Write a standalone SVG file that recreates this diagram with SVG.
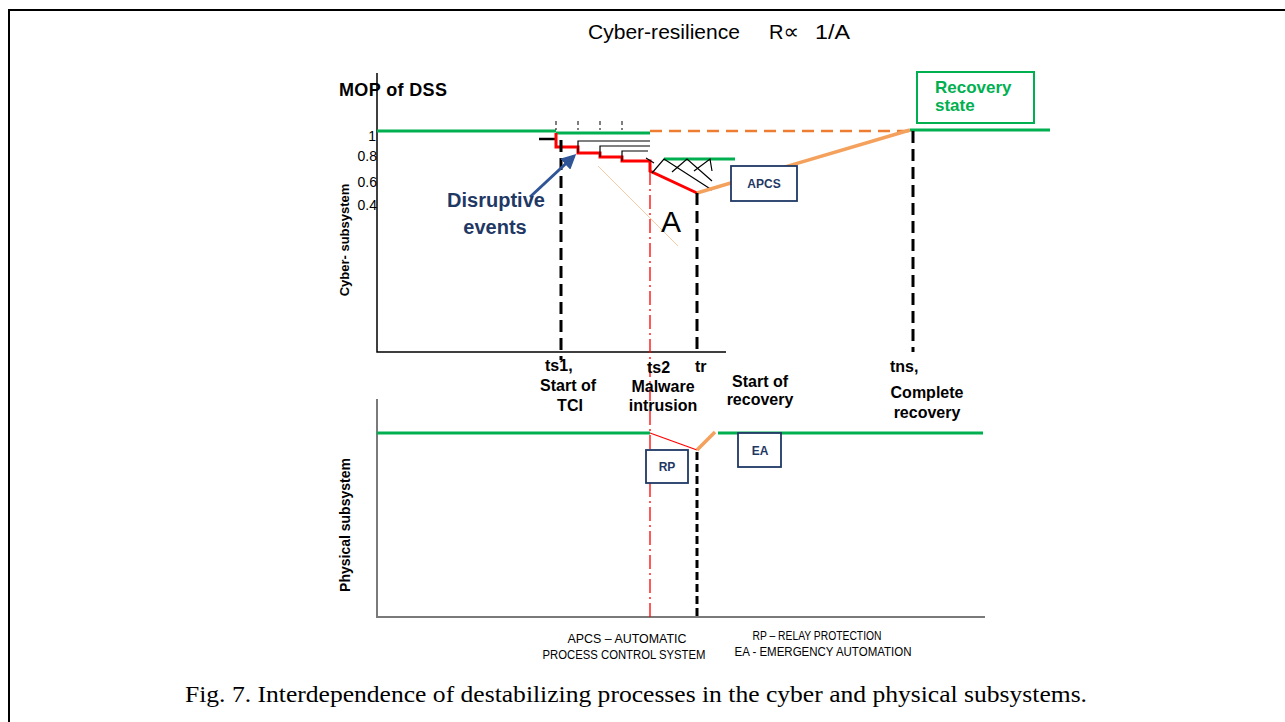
<svg xmlns="http://www.w3.org/2000/svg" width="1285" height="722" viewBox="0 0 1285 722">
  <style>
    .frame { fill: none; stroke: #000; stroke-width: 2; }
    .axis { fill: none; stroke: #000; stroke-width: 1.5; }
    .axis-gray { fill: none; stroke: #7a7a7a; stroke-width: 2; }
    .green { fill: none; stroke: #00b050; stroke-width: 3; }
    .red { fill: none; stroke: #ff0000; stroke-width: 3; stroke-linejoin: miter; }
    .red-thin { fill: none; stroke: #ff0000; stroke-width: 1.2; }
    .redline { fill: none; stroke: #ff0000; stroke-width: 1.3; stroke-dasharray: 14 4 2 4; }
    .orange { fill: none; stroke: #f4a15d; stroke-width: 3.5; }
    .orange-dash { fill: none; stroke: #ed7d31; stroke-width: 2.5; stroke-dasharray: 12 7; }
    .vdash { fill: none; stroke: #000; stroke-width: 3; stroke-dasharray: 12 6; }
    .tick { fill: none; stroke: #000; stroke-width: 1; stroke-dasharray: 4 3; }
    .thin { fill: none; stroke: #000; stroke-width: 1.2; }
    .box { fill: #fff; stroke: #1f3864; stroke-width: 1.8; }
    .box-green { fill: #fff; stroke: #00b050; stroke-width: 2; }
    .lbl { font-family: "Liberation Sans", Arial, sans-serif; font-weight: bold; fill: #000; }
    .num { font-family: "Liberation Sans", Arial, sans-serif; font-size: 14px; fill: #000; }
    .boxtxt { font-family: "Liberation Sans", Arial, sans-serif; font-weight: bold; font-size: 12px; fill: #1f3864; text-anchor: middle; }
    .legend { font-family: "Liberation Sans", Arial, sans-serif; font-size: 12.5px; fill: #000; text-anchor: middle; }
    .mid { text-anchor: middle; }
  </style>
  <defs>
    <marker id="navyHead" viewBox="0 0 10 10" refX="8" refY="5" markerWidth="5" markerHeight="5" orient="auto">
      <path d="M0,0 L10,5 L0,10 z" fill="#2f5597"/>
    </marker>
  </defs>

  <!-- figure frame (top and left edges) -->
  <path class="frame" d="M9,722 V10 H1285"/>

  <!-- title -->
  <g id="title" font-family="'Liberation Sans', Arial, sans-serif" font-size="20" fill="#000">
    <text x="588" y="39" textLength="152" lengthAdjust="spacingAndGlyphs">Cyber-resilience</text>
    <text x="769" y="39">R<tspan font-family="'DejaVu Sans', sans-serif" font-size="22">∝</tspan></text>
    <text x="815" y="39" textLength="35" lengthAdjust="spacingAndGlyphs">1/A</text>
  </g>

  <!-- axes -->
  <g id="axes">
    <path class="axis" d="M377,73 V352 H726"/>
    <path class="axis-gray" d="M377,399 V617 H985"/>
  </g>

  <!-- axis labels -->
  <g id="axis-labels">
    <text class="lbl" x="339" y="96" font-size="18" textLength="108">MOP of DSS</text>
    <text class="num" x="376" y="141" text-anchor="end">1</text>
    <text class="num" x="377" y="161" text-anchor="end">0.8</text>
    <text class="num" x="377" y="187" text-anchor="end">0.6</text>
    <text class="num" x="377" y="210" text-anchor="end">0.4</text>
    <text class="lbl mid" font-size="13" transform="translate(349,240) rotate(-90)">Cyber- subsystem</text>
    <text class="lbl mid" font-size="14" transform="translate(350,525) rotate(-90)">Physical subsystem</text>
  </g>

  <!-- connectors: curves, markers and time lines -->
  <g id="connectors">
    <!-- nominal level -->
    <path class="green" d="M377,131 H556"/>
    <path class="green" d="M556,133 H650"/>
    <path class="orange-dash" d="M650,131 H910"/>
    <path class="green" d="M910,130 H1050"/>

    <!-- small event ticks -->
    <path class="tick" d="M556,121 V130 M578,121 V130 M600,121 V130 M622,121 V130"/>

    <!-- pre-event level -->
    <path fill="none" stroke="#000" stroke-width="2.5" d="M539,139 H556"/>

    <!-- degradation staircase -->
    <path class="red" d="M556,133 V147 H578 V153 H600 V157 H622 V161 H650 V171 L697,193"/>

    <!-- intermediate thin levels -->
    <path class="thin" d="M578,153 V141 H650 M600,157 V146 H650 M622,161 V151 H648"/>

    <!-- APCS response -->
    <path class="green" d="M664,159 H735"/>
    <path class="thin" d="M646,158 L654,163 M652,173 L664,159 L712,190 M672,172 L687,159 L712,181 M694,171 L710,159 L712,171"/>

    <!-- recovery -->
    <path class="orange" d="M697,193 L910,130"/>

    <!-- faint trend line -->
    <path fill="none" stroke="#f4a15d" stroke-width="0.8" opacity="0.7" d="M598,166 L678,246"/>

    <!-- time markers -->
    <path class="vdash" d="M561,140 V360"/>
    <path class="vdash" d="M697,193 V352"/>
    <path class="vdash" d="M913,131 V352"/>
    <path class="redline" d="M650,171 V617"/>

    <!-- physical subsystem -->
    <path class="green" d="M377,433 H650"/>
    <path class="green" d="M718,433 H983"/>
    <path class="red-thin" d="M650,433 L697,450"/>
    <path class="orange" d="M697,450 L715,432"/>
    <path fill="none" stroke="#000" stroke-width="3" stroke-dasharray="8 4" d="M697,452 V617"/>

    <!-- pointer to disruptive events -->
    <path fill="none" stroke="#2f5597" stroke-width="3" marker-end="url(#navyHead)" d="M530,197 L574,156"/>
  </g>

  <!-- annotations -->
  <g id="disruptive-events" font-family="'Liberation Sans', Arial, sans-serif" font-weight="bold" font-size="20" fill="#1f3864" text-anchor="middle">
    <text x="496" y="207">Disruptive</text>
    <text x="495" y="234">events</text>
  </g>

  <g id="area-label">
    <text x="671" y="232" font-family="'Liberation Sans', Arial, sans-serif" font-size="30" fill="#000" text-anchor="middle">A</text>
  </g>

  <g id="apcs">
    <rect class="box" x="731" y="166" width="66" height="35"/>
    <text class="boxtxt" x="764" y="188">APCS</text>
  </g>

  <g id="recovery-state">
    <rect class="box-green" x="917" y="72" width="117" height="51"/>
    <text x="935" y="93" font-family="'Liberation Sans', Arial, sans-serif" font-weight="bold" font-size="17" fill="#00b050">Recovery</text>
    <text x="935" y="111" font-family="'Liberation Sans', Arial, sans-serif" font-weight="bold" font-size="17" fill="#00b050">state</text>
  </g>

  <g id="rp">
    <rect class="box" x="646" y="450" width="42" height="33"/>
    <text class="boxtxt" x="667" y="471">RP</text>
  </g>

  <g id="ea">
    <rect class="box" x="738" y="433" width="43" height="34"/>
    <text class="boxtxt" x="760" y="455">EA</text>
  </g>

  <!-- time point labels -->
  <g id="ts1" class="lbl" font-size="16">
    <text x="545" y="371">ts1,</text>
    <text class="mid" x="568" y="391">Start of</text>
    <text class="mid" x="570" y="411">TCI</text>
  </g>
  <g id="ts2" class="lbl" font-size="16">
    <text x="647" y="373">ts2</text>
    <text class="mid" x="663" y="392">Malware</text>
    <text class="mid" x="663" y="411">intrusion</text>
  </g>
  <g id="tr" class="lbl" font-size="16">
    <text x="695" y="372">tr</text>
    <text class="mid" x="760" y="387">Start of</text>
    <text class="mid" x="760" y="405">recovery</text>
  </g>
  <g id="tns" class="lbl" font-size="16">
    <text x="890" y="372">tns,</text>
    <text class="mid" x="927" y="398">Complete</text>
    <text class="mid" x="927" y="418">recovery</text>
  </g>

  <!-- legend -->
  <g id="legend">
    <text class="legend" x="627" y="643" textLength="119" lengthAdjust="spacingAndGlyphs">APCS – AUTOMATIC</text>
    <text class="legend" x="624" y="659" textLength="163" lengthAdjust="spacingAndGlyphs">PROCESS CONTROL SYSTEM</text>
    <text class="legend" x="817" y="640" textLength="129" lengthAdjust="spacingAndGlyphs">RP – RELAY PROTECTION</text>
    <text class="legend" x="823" y="656" textLength="177" lengthAdjust="spacingAndGlyphs">EA - EMERGENCY AUTOMATION</text>
  </g>

  <!-- caption -->
  <g id="caption">
    <text x="185" y="702" font-family="'Liberation Serif', 'Times New Roman', serif" font-size="23" fill="#000" textLength="902" lengthAdjust="spacingAndGlyphs">Fig. 7. Interdependence of destabilizing processes in the cyber and physical subsystems.</text>
  </g>
</svg>
